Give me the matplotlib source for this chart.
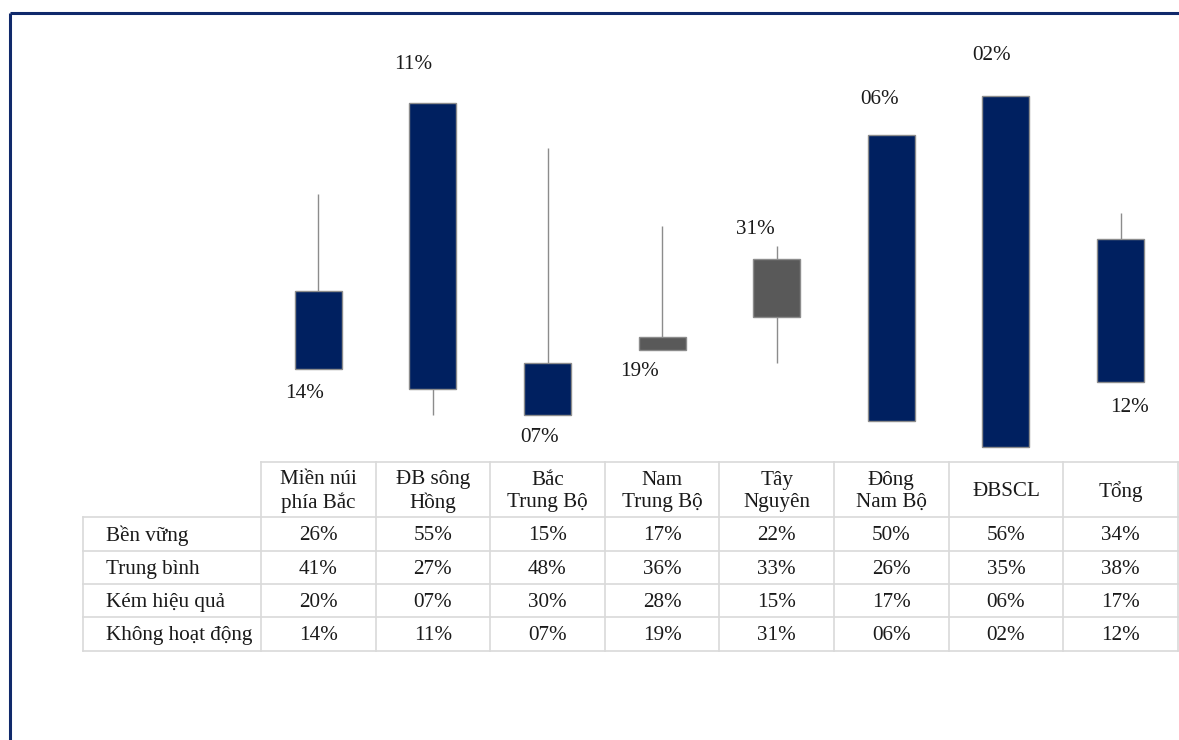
import matplotlib
matplotlib.use("Agg")
import matplotlib.pyplot as plt

# regions and the four status shares (%)
regions = ["Miền núi\nphía Bắc", "ĐB sông\nHồng", "Bắc\nTrung Bộ", "Nam\nTrung Bộ",
           "Tây\nNguyên", "Đông\nNam Bộ", "ĐBSCL", "Tổng"]
row_names = ["Bền vững", "Trung bình", "Kém hiệu quả", "Không hoạt động"]
ben_vung = [26, 55, 15, 17, 22, 50, 56, 34]
trung_binh = [41, 27, 48, 36, 33, 26, 35, 38]
kem_hieu_qua = [20, 7, 30, 28, 15, 17, 6, 17]
khong_hoat_dong = [14, 11, 7, 19, 31, 6, 2, 12]

# where each close label sits relative to the body (pixels)
label_side = ["below", "above", "below", "below", "above", "above", "above", "below"]
label_dx = [-14, -20, -8, -23, -21, -12, -14, 9]
label_dy = [-24, 38, -23, -22, 29, 35, 40, -25]

W, H = 1179, 740
NAVY = "#002060"
GREY = "#595959"
EDGE = "#8c8c8c"
GRID = "#d9d9d9"
INK = "#1a1a1a"
FONT = "Liberation Serif"
FS = 15.2

fig = plt.figure(figsize=(W / 100, H / 100), dpi=100)

# page layer in pixel coordinates: frame and data table
page = fig.add_axes([0, 0, 1, 1])
page.set_xlim(0, W)
page.set_ylim(H, 0)
page.axis("off")
page.plot([10, W], [13, 13], color="#10296b", lw=2.2, solid_capstyle="butt")
page.plot([10, 10], [13, H], color="#10296b", lw=2.2, solid_capstyle="butt")

col_edges = [261 + 114.6 * i for i in range(9)]
row_edges = [462, 517, 550.5, 583.7, 617, 650.5]
label_left = 83

page.plot([col_edges[0], col_edges[-1]], [row_edges[0]] * 2, color=GRID, lw=1.2)
for y in row_edges[1:]:
    page.plot([label_left, col_edges[-1]], [y, y], color=GRID, lw=1.2)
page.plot([label_left, label_left], [row_edges[1], row_edges[-1]], color=GRID, lw=1.2)
for x in col_edges:
    page.plot([x, x], [row_edges[0], row_edges[-1]], color=GRID, lw=1.2)

table_rows = [ben_vung, trung_binh, kem_hieu_qua, khong_hoat_dong]
for i, name in enumerate(regions):
    cx = (col_edges[i] + col_edges[i + 1]) / 2
    page.text(cx, (row_edges[0] + row_edges[1]) / 2 + 2, name, ha="center", va="center",
              family=FONT, fontsize=FS, linespacing=1.22, color=INK)
    for r, vals in enumerate(table_rows):
        cy = (row_edges[r + 1] + row_edges[r + 2]) / 2 + 2
        page.text(cx, cy, f"{vals[i]:02d}%", ha="center", va="center",
                  family=FONT, fontsize=FS, color=INK)
for r, name in enumerate(row_names):
    cy = (row_edges[r + 1] + row_edges[r + 2]) / 2 + 2
    page.text(106, cy, name, ha="left", va="center", family=FONT, fontsize=FS, color=INK)

# candlestick layer: open = Bền vững, close = Không hoạt động
px_per_pct = 6.5
zero_y, top_y = 460, 20
ax = fig.add_axes([col_edges[0] / W, (H - zero_y) / H,
                   (col_edges[-1] - col_edges[0]) / W, (zero_y - top_y) / H])
ax.set_xlim(-0.5, len(regions) - 0.5)
ax.set_ylim(0, (zero_y - top_y) / px_per_pct)
ax.axis("off")
ax.patch.set_alpha(0)

xs = list(range(len(regions)))
lows = [min(v) for v in zip(ben_vung, trung_binh, kem_hieu_qua, khong_hoat_dong)]
highs = [max(v) for v in zip(ben_vung, trung_binh, kem_hieu_qua, khong_hoat_dong)]
ax.vlines(xs, lows, highs, color=EDGE, lw=1.0, zorder=1)

bottoms = [min(o, c) for o, c in zip(ben_vung, khong_hoat_dong)]
heights = [abs(c - o) for o, c in zip(ben_vung, khong_hoat_dong)]
colors = [GREY if c > o else NAVY for o, c in zip(ben_vung, khong_hoat_dong)]
ax.bar(xs, heights, bottom=bottoms, width=0.41, color=colors, edgecolor=EDGE,
       linewidth=1.0, zorder=2)

for i, c in enumerate(khong_hoat_dong):
    o = ben_vung[i]
    anchor = max(o, c) if label_side[i] == "above" else min(o, c)
    ax.annotate(f"{c:02d}%", (i, anchor), xytext=(label_dx[i], label_dy[i]),
                textcoords="offset pixels", ha="center", va="center",
                family=FONT, fontsize=FS, color=INK, annotation_clip=False)

fig.savefig("out.png", dpi=100)
